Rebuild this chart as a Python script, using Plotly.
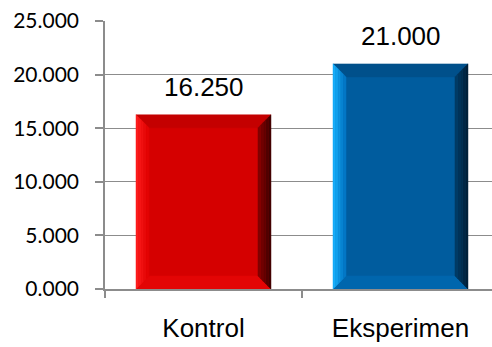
import plotly.graph_objects as go

# Chart data
categories = ["Kontrol", "Eksperimen"]
values = [16.25, 21.0]
y_ticks = [0, 5, 10, 15, 20, 25]

# Colour scheme per bar: face, left bevel (outer, inner), right bevel (outer, inner), top, bottom
palettes = [
    dict(face="#d50000", left=("#ff2020", "#e00000"), right=("#380000", "#8a0000"),
         top="#c40000", bottom="#e30505"),
    dict(face="#005c9e", left=("#1ab4ff", "#0070bf"), right=("#001d33", "#003e6b"),
         top="#00508b", bottom="#0066ad"),
]

W, H = 492, 347
margin = dict(l=105, r=0, t=21, b=58)
cat_px = 197                      # pixel width of one category slot
plot_w = W - margin["l"] - margin["r"]
plot_h = H - margin["t"] - margin["b"]
x_range = [-0.5, -0.5 + plot_w / cat_px]
y_max = 25
bar_w = 0.685
bevel_px = 13
dx = bevel_px / cat_px
dy = bevel_px / (plot_h / y_max)

fig = go.Figure()

# Base bars on the categorical axis
fig.add_trace(go.Bar(
    x=categories, y=values, width=bar_w,
    marker=dict(color=[p["face"] for p in palettes], line=dict(width=0)),
    hoverinfo="skip", showlegend=False,
))


def mix(c1, c2, t):
    a = [int(c1[i:i + 2], 16) for i in (1, 3, 5)]
    b = [int(c2[i:i + 2], 16) for i in (1, 3, 5)]
    return "#" + "".join(f"{round(a[k] + (b[k] - a[k]) * t):02x}" for k in range(3))


def poly(xs, ys, color):
    fig.add_trace(go.Scatter(
        x=xs + [xs[0]], y=ys + [ys[0]], xaxis="x2", yaxis="y",
        mode="lines", fill="toself", fillcolor=color,
        line=dict(color=color, width=0.5),
        hoverinfo="skip", showlegend=False,
    ))


# Bevelled edges drawn on a numeric overlay that shares the category scale
for i, (v, p) in enumerate(zip(values, palettes)):
    x0, x1 = i - bar_w / 2, i + bar_w / 2
    # top and bottom bevels
    poly([x0, x1, x1 - dx, x0 + dx], [v, v, v - dy, v - dy], p["top"])
    poly([x0, x1, x1 - dx, x0 + dx], [0, 0, dy, dy], p["bottom"])
    # left and right bevels as graded strips
    n = 5
    for k in range(n):
        t1, t2 = k / n, (k + 1) / n
        c = mix(p["left"][0], p["left"][1], (k + 0.5) / n)
        poly([x0 + t1 * dx, x0 + t2 * dx, x0 + t2 * dx, x0 + t1 * dx],
             [t1 * dy, t2 * dy, v - t2 * dy, v - t1 * dy], c)
        c = mix(p["right"][0], p["right"][1], (k + 0.5) / n)
        poly([x1 - t1 * dx, x1 - t2 * dx, x1 - t2 * dx, x1 - t1 * dx],
             [t1 * dy, t2 * dy, v - t2 * dy, v - t1 * dy], c)

# Value labels above the bars
for c, v in zip(categories, values):
    fig.add_annotation(
        x=c, y=v, text=f"{v:.3f}", showarrow=False, yanchor="bottom", yshift=11,
        font=dict(family="Liberation Sans, Arial, sans-serif", size=26, color="#000000"),
    )

grey = "#8c8c8c"
fig.update_layout(
    width=W, height=H, margin=margin,
    paper_bgcolor="white", plot_bgcolor="white",
    bargap=0,
    xaxis=dict(
        type="category", range=x_range, showgrid=False, zeroline=False,
        showline=True, linecolor=grey, linewidth=1.5,
        ticks="outside", tickson="boundaries", ticklen=7, tickcolor=grey, tickwidth=1.5,
        tickfont=dict(family="Liberation Sans, Arial, sans-serif", size=26, color="#000000"),
        ticklabelstandoff=15,
    ),
    xaxis2=dict(range=x_range, overlaying="x", visible=False, fixedrange=True),
    yaxis=dict(
        range=[0, y_max], tickvals=y_ticks, tickformat=".3f",
        showgrid=True, gridcolor=grey, gridwidth=1, zeroline=False,
        showline=True, linecolor=grey, linewidth=1.5,
        ticks="outside", ticklen=8, tickcolor=grey, tickwidth=1.5,
        tickfont=dict(family="Lato, sans-serif", size=21, color="#000000"),
        ticklabelstandoff=12,
    ),
)

fig.write_html("out.html")
